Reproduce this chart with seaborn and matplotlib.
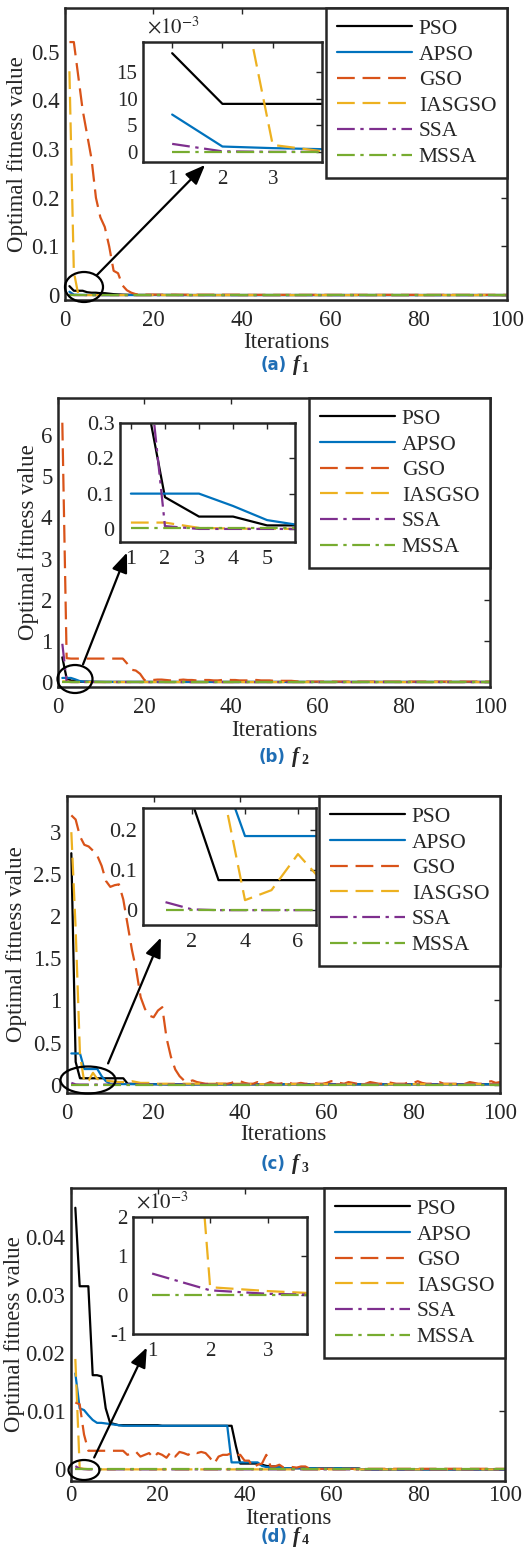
import pandas as pd
import seaborn as sns
import matplotlib.pyplot as plt
from matplotlib.patches import Ellipse, FancyArrowPatch
from matplotlib.ticker import FuncFormatter

W, H = 524, 1551

iters = list(range(1, 101))
algos = ['PSO', 'APSO', 'GSO', 'IASGSO', 'SSA', 'MSSA']

# (a) f1
pso_a = [0.0185, 0.009, 0.009, 0.009, 0.006, 0.005, 0.005, 0.004, 0.004, 0.003,
         0.002, 0.0015, 0.001, 0.0008, 0.0006] + [0.0005] * 10 + [0.0003] * 75
apso_a = [0.007, 0.001, 0.0007, 0.0005, 0.0004, 0.0003, 0.0002] + [0.0001] * 93
gso_a = [0.52, 0.52, 0.45, 0.38, 0.33, 0.28, 0.2, 0.16, 0.14, 0.1,
         0.05, 0.045, 0.02, 0.01, 0.005, 0.002, 0.0015, 0.001, 0.001, 0.001] + [0.0008] * 20 + [0.0005] * 60
ias_a = [0.46, 0.048, 0.0013, 0.0001] + [0.0] * 96
ssa_a = [0.0015, 0.0001] + [0.0] * 98
mssa_a = [0.0] * 100

# (b) f2
pso_b = [0.6, 0.09, 0.035, 0.035, 0.01, 0.01, 0.008, 0.006, 0.005, 0.004] + [0.003] * 10 + [0.002] * 80
apso_b = [0.1, 0.1, 0.1, 0.065, 0.025, 0.01, 0.008, 0.006, 0.005, 0.004] + [0.003] * 90
gso_b = ([6.3, 0.58] + [0.57] * 13 + [0.45, 0.3, 0.28, 0.2, 0.05] +
         [0.03, 0.05, 0.06, 0.06, 0.05, 0.04, 0.04, 0.05, 0.06, 0.05,
          0.05, 0.04, 0.04, 0.05, 0.05, 0.04, 0.04, 0.05, 0.06, 0.05,
          0.05, 0.04, 0.04, 0.04, 0.05, 0.05, 0.04, 0.04, 0.04, 0.03,
          0.03, 0.03, 0.03, 0.03, 0.02] + [0.01] * 45)
ias_b = [0.018, 0.018, 0.003, 0.001, 0.0005] + [0.0003] * 95
ssa_b = [0.93, 0.008] + [0.0] * 98
mssa_b = [0.004] * 100

# (c) f3
pso_c = ([2.75, 0.27] + [0.075] * 11 +
         [0.01, 0.009, 0.008, 0.007, 0.006, 0.005, 0.005, 0.004, 0.004] + [0.003] * 78)
apso_c = [0.37, 0.37, 0.37] + [0.185] * 4 + [0.1, 0.04, 0.01] + [0.008, 0.007, 0.006, 0.005, 0.005] + [0.004] * 85
gso_c = ([3.2, 3.15, 2.95, 2.85, 2.83, 2.78, 2.72, 2.6, 2.42, 2.35,
          2.37, 2.38, 2.2, 1.9, 1.6, 1.36, 1.04, 0.9, 0.82, 0.8,
          0.88, 0.92, 0.55, 0.33, 0.18, 0.1, 0.05, 0.03] +
         [0.05, 0.03, 0.02, 0.01, 0.01, 0.02, 0.01, 0.01, 0.01, 0.02,
          0.04, 0.04, 0.02, 0.01, 0.01, 0.03, 0.01, 0.01, 0.03, 0.01,
          0.01, 0.02, 0.03, 0.01, 0.01, 0.02, 0.01, 0.01, 0.02, 0.01,
          0.01, 0.02, 0.04, 0.04, 0.02, 0.01, 0.03, 0.02, 0.01, 0.01,
          0.01, 0.03, 0.02, 0.01, 0.01, 0.03, 0.02, 0.01, 0.01, 0.01,
          0.03, 0.02, 0.04, 0.02, 0.01, 0.01, 0.02, 0.03, 0.01, 0.01,
          0.01, 0.01, 0.02, 0.01, 0.03, 0.02, 0.01, 0.01, 0.03, 0.04,
          0.02, 0.03])
ias_c = ([3.0, 1.85, 0.354, 0.025, 0.05, 0.14, 0.066, 0.06, 0.05, 0.04,
          0.035, 0.03, 0.03, 0.03, 0.04, 0.03, 0.02, 0.02, 0.02, 0.015] + [0.01] * 20 + [0.005] * 60)
ssa_c = [0.02, 0.002] + [0.0] * 98
mssa_c = [0.0] * 100

# (d) f4
pso_d = ([0.045, 0.0315, 0.0315, 0.0315, 0.0162, 0.0162, 0.016, 0.0105, 0.008, 0.0078] +
         [0.0076] * 10 + [0.0075] * 17 +
         [0.004, 0.001, 0.001, 0.001, 0.001, 0.001, 0.0008, 0.0006] +
         [0.0005] * 3 + [0.0002] * 18 + [0.0] * 34)
apso_d = ([0.0165, 0.0105, 0.0102, 0.0093, 0.0085, 0.008, 0.008, 0.0079, 0.0078, 0.0077, 0.0076] +
          [0.0075] * 25 + [0.0012] * 7 + [0.0006] + [0.0004] * 4 + [0.0002] * 18 + [0.0] * 34)
gso_d = ([0.0115, 0.0112, 0.006, 0.0032, 0.0032, 0.0032, 0.0032, 0.0032, 0.0032, 0.0032,
          0.0032, 0.0032, 0.0025, 0.0028, 0.003, 0.0022, 0.0025, 0.0028, 0.002, 0.0028,
          0.0025, 0.002, 0.003, 0.0022, 0.003, 0.0028, 0.0025, 0.003, 0.0028, 0.003,
          0.0028, 0.002, 0.001, 0.0022, 0.0025, 0.0025, 0.0028, 0.0025, 0.0025, 0.0015,
          0.0015, 0.0003, 0.0008, 0.001, 0.0025, 0.0005, 0.0005, 0.0008, 0.0003, 0.0004,
          0.0004, 0.0003, 0.0005, 0.0005] + [0.0001] * 46)
ias_d = [0.019, 0.0002, 0.0001, 0.00003] + [0.0] * 96
ssa_d = [0.00055, 0.00012, 0.00003] + [0.0] * 97
mssa_d = [0.0] * 100

palette = {'PSO': '#000000', 'APSO': '#0072BD', 'GSO': '#D95319',
           'IASGSO': '#EDB120', 'SSA': '#7E2F8E', 'MSSA': '#77AC30'}
dashes = {'PSO': '', 'APSO': '', 'GSO': (8, 3.5), 'IASGSO': (8, 3.5),
          'SSA': (8, 2.5, 1.5, 2.5), 'MSSA': (8, 2.5, 1.5, 2.5)}

sns.set_theme(style='white')
plt.rcParams['font.family'] = ['Liberation Serif', 'DejaVu Serif']
plt.rcParams['mathtext.fontset'] = 'stix'
plt.rcParams['axes.edgecolor'] = '#262626'

fig = plt.figure(figsize=(W / 100, H / 100), dpi=100)


def rect(l, t, r, b):
    return [l / W, 1 - b / H, (r - l) / W, (b - t) / H]


def fpt(x, y):
    return (x / W, 1 - y / H)


def make_df(series):
    rows = []
    for name, vals in zip(algos, series):
        rows.append(pd.DataFrame({'iter': iters, 'value': vals, 'algo': name}))
    return pd.concat(rows, ignore_index=True)


def style_ax(ax, fs, lw=1.4):
    for s in ax.spines.values():
        s.set_linewidth(lw)
        s.set_color('#262626')
    ax.tick_params(direction='in', top=True, right=True, length=4, width=1,
                   labelsize=fs, colors='#262626', pad=4)
    ax.set_xlabel('')
    ax.set_ylabel('')


def draw(df, ax):
    sns.lineplot(data=df, x='iter', y='value', hue='algo', style='algo',
                 hue_order=algos, style_order=algos, palette=palette, dashes=dashes,
                 errorbar=None, linewidth=1.6, legend=False, ax=ax)


panels = [
    dict(series=[pso_a, apso_a, gso_a, ias_a, ssa_a, mssa_a],
         main=(65, 8, 507, 300), ylim=(-0.01, 0.59), yticks=[0, 0.1, 0.2, 0.3, 0.4, 0.5],
         ylab_x=18, xlab_dy=42, xpad=7,
         ins=(143, 42, 322, 162), ixlim=(0.42, 3.98), iylim=(-0.0019, 0.0206),
         ixticks=[1, 2, 3], iyticks=[0, 0.005, 0.01, 0.015], scale=True, ifs=15,
         ell=(84, 287, 38, 30), arrow=((95, 277), (207, 163)),
         cap=(287, 365, 'a', '1')),
    dict(series=[pso_b, apso_b, gso_b, ias_b, ssa_b, mssa_b],
         main=(58, 398, 490, 687), ylim=(-0.12, 6.9), yticks=[0, 1, 2, 3, 4, 5, 6],
         ylab_x=29, xlab_dy=43, xpad=7,
         ins=(120, 423, 295, 542), ixlim=(0.68, 5.82), iylim=(-0.037, 0.3),
         ixticks=[1, 2, 3, 4, 5], iyticks=[0, 0.1, 0.2, 0.3], scale=False, ifs=16,
         ell=(75, 679, 35, 28), arrow=((82, 667), (128, 550)),
         cap=(286, 757, 'b', '2')),
    dict(series=[pso_c, apso_c, gso_c, ias_c, ssa_c, mssa_c],
         main=(67, 796, 500, 1093), ylim=(-0.1, 3.43), yticks=[0, 0.5, 1, 1.5, 2, 2.5, 3],
         ylab_x=17, xlab_dy=42, xpad=7,
         ins=(143, 808, 316, 925), ixlim=(0.15, 6.68), iylim=(-0.037, 0.255),
         ixticks=[2, 4, 6], iyticks=[0, 0.1, 0.2], scale=False, ifs=16,
         ell=(88, 1080, 55, 27), arrow=((107, 1066), (162, 935)),
         cap=(286, 1164, 'c', '3')),
    dict(series=[pso_d, apso_d, gso_d, ias_d, ssa_d, mssa_d],
         main=(71, 1188, 505, 1481), ylim=(-0.002, 0.0484), yticks=[0, 0.01, 0.02, 0.03, 0.04],
         ylab_x=15, xlab_dy=37, xpad=3,
         ins=(133, 1217, 307, 1334), ixlim=(0.67, 3.67), iylim=(-0.001, 0.002),
         ixticks=[1, 2, 3], iyticks=[-0.001, 0, 0.001, 0.002], scale=True, ifs=15,
         ell=(84, 1470, 31, 20), arrow=((93, 1460), (148, 1345)),
         cap=(287, 1537, 'd', '4')),
]

gfmt = FuncFormatter(lambda v, p: '%g' % round(v, 6))
mfmt = FuncFormatter(lambda v, p: '%g' % round(v * 1000, 6))

for p in panels:
    df = make_df(p['series'])
    l, t, r, b = p['main']
    ax = fig.add_axes(rect(l, t, r, b))
    draw(df, ax)
    ax.set_xlim(0, 100)
    ax.set_ylim(*p['ylim'])
    ax.set_xticks([0, 20, 40, 60, 80, 100])
    ax.set_yticks(p['yticks'])
    ax.yaxis.set_major_formatter(gfmt)
    style_ax(ax, 16.5, lw=1.8)
    ax.tick_params(axis='x', pad=p['xpad'])
    ax.set_ylabel('Optimal fitness value', fontsize=16.5)
    ax.set_xlabel('Iterations', fontsize=16.5)
    ax.yaxis.set_label_coords((p['ylab_x'] - l) / (r - l), 0.5)
    ax.yaxis.label.set_va('center')
    ax.xaxis.set_label_coords(0.5, -p['xlab_dy'] / (b - t))
    ax.xaxis.label.set_va('center')

    leg = ax.legend(ax.get_lines()[:6], algos, loc='upper right', bbox_to_anchor=(1, 1),
                    borderaxespad=0, fontsize=15.5, handlelength=3.5, handletextpad=0.3,
                    labelspacing=0.26, borderpad=0.5, fancybox=False, framealpha=1,
                    edgecolor='#262626')
    leg.get_frame().set_linewidth(1.8)

    il, it, ir, ib = p['ins']
    iax = fig.add_axes(rect(il, it, ir, ib))
    draw(df, iax)
    iax.set_xlim(*p['ixlim'])
    iax.set_ylim(*p['iylim'])
    iax.set_xticks(p['ixticks'])
    iax.set_yticks(p['iyticks'])
    iax.yaxis.set_major_formatter(mfmt if p['scale'] else gfmt)
    style_ax(iax, p['ifs'], lw=1.8)
    iax.tick_params(axis='x', pad=6)
    if p['scale']:
        iax.text(0.02, 1.03, r'$\times10^{-3}$', transform=iax.transAxes,
                 fontsize=15, ha='left', va='bottom', color='#262626')

    cx, cy, ew, eh = p['ell']
    fig.add_artist(Ellipse(fpt(cx, cy), ew / W, eh / H, transform=fig.transFigure,
                           fill=False, edgecolor='black', linewidth=1.6))
    (x0, y0), (x1, y1) = p['arrow']
    fig.add_artist(FancyArrowPatch(fpt(x0, y0), fpt(x1, y1), transform=fig.transFigure,
                                   arrowstyle='-|>,head_length=1.0,head_width=0.4',
                                   mutation_scale=12, color='black', linewidth=1.6))

    capx, capy, letter, num = p['cap']
    fig.text(capx / W, 1 - capy / H, '(%s)' % letter, color='#1f6eb5', fontsize=12,
             fontweight='bold', family='DejaVu Sans', ha='right', va='center')
    fig.text((capx + 6) / W, 1 - capy / H, 'f', family='Liberation Serif', style='italic',
             weight='bold', fontsize=15, ha='left', va='center')
    fig.text((capx + 15) / W, 1 - (capy + 4) / H, num, family='Liberation Serif',
             weight='bold', fontsize=10, ha='left', va='center')

fig.savefig('out.png', dpi=100)
